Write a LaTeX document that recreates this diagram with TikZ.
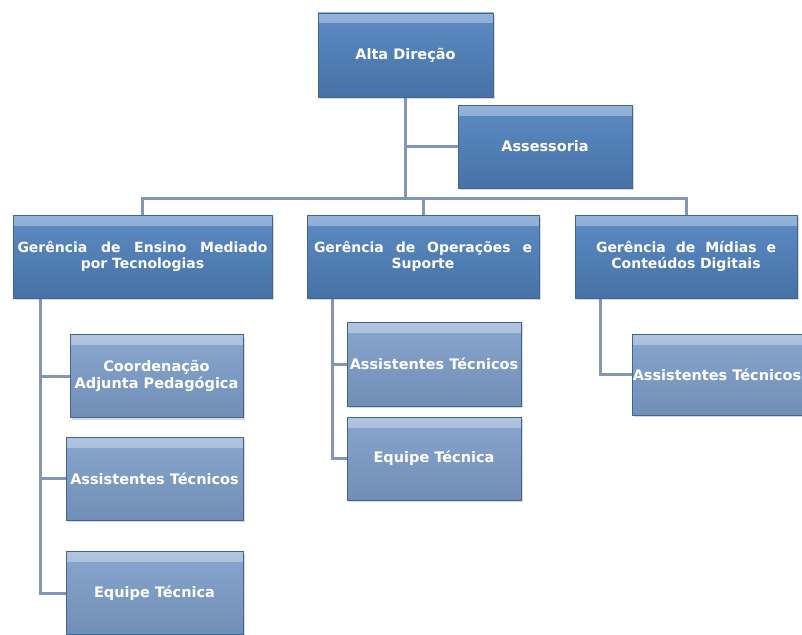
\documentclass[tikz,border=0pt]{standalone}
\usepackage{fontspec}
\setmainfont{DejaVu Sans}
\usetikzlibrary{positioning,shadows,backgrounds}
\definecolor{darkbox}{HTML}{4F81BD}
\definecolor{lightbox}{HTML}{7E9ECA}
\definecolor{boxedge}{HTML}{3F6594}
\definecolor{linkgray}{HTML}{8296BB}
\tikzset{
  gloss/.style={path picture={
    \shade[top color=#1!60!white, bottom color=#1!92!white] (path picture bounding box.north west)
      rectangle ([yshift=-10pt]path picture bounding box.north east);}},
  unit/.style={draw=boxedge, line width=0.6pt, text=white, align=center,
    inner sep=2pt, drop shadow={opacity=0.3, shadow xshift=1.5pt, shadow yshift=-2pt}},
  topunit/.style={unit, top color=darkbox!92!white, bottom color=darkbox!88!black, gloss=darkbox,
    minimum width=175pt, minimum height=84pt, font=\fontsize{14.5}{17}\selectfont\bfseries},
  mgrunit/.style={unit, top color=darkbox!92!white, bottom color=darkbox!88!black, gloss=darkbox,
    minimum height=83pt, font=\fontsize{14}{16}\selectfont\bfseries},
  subunit/.style={unit, top color=lightbox!92!white, bottom color=lightbox!90!black, gloss=lightbox,
    inner xsep=0pt, minimum height=83pt, font=\fontsize{14.5}{17}\selectfont\bfseries},
  link/.style={draw=linkgray, line width=3pt}
}

\begin{document}
\begin{tikzpicture}[x=1pt,y=-1pt]
  \useasboundingbox (0,0) rectangle (802,634);

  % Top
  \node[topunit] (alta) at (405.5,55) {Alta Direção};
  \node[topunit, minimum width=174pt, minimum height=83pt] (assess) at (545,146.5) {Assessoria};

  % Managers
  \node[mgrunit, minimum width=259pt, text width=250pt] (gem) at (142.5,256.5)
    {\hbox to 250pt{Gerência\hfil de\hfil Ensino\hfil Mediado}\\por Tecnologias};
  \node[mgrunit, minimum width=232pt, text width=218pt] (gos) at (423,256.5)
    {\hbox to 218pt{Gerência\hfil de\hfil Operações\hfil e}\\Suporte};
  \node[mgrunit, minimum width=222pt, text width=180pt] (gmc) at (686,256.5)
    {\hbox to 180pt{Gerência\hfil de\hfil Mídias\hfil e}\\Conteúdos Digitais};

  % Staff
  \node[subunit, minimum width=173pt] (cap1) at (156.5,376) {Coordenação\\Adjunta Pedagógica};
  \node[subunit, minimum width=177pt] (ast1) at (154.5,478.5) {Assistentes Técnicos};
  \node[subunit, minimum width=177pt] (eqt1) at (154.5,593) {Equipe Técnica};
  \node[subunit, minimum width=174pt, minimum height=84pt] (ast2) at (434,364) {Assistentes Técnicos};
  \node[subunit, minimum width=174pt] (eqt2) at (434,458.5) {Equipe Técnica};
  \node[subunit, minimum width=170pt, minimum height=81pt] (ast3) at (717,374.5) {Assistentes Técnicos};

  % Lines
  \coordinate (bus) at (0,198);
  \coordinate (gemleg) at (40,298);
  \coordinate (gosleg) at (332,298);
  \coordinate (gmcleg) at (600,298);
  \begin{scope}[on background layer]
    \draw[link] (alta.south) -- (alta.south |- bus);
    \draw[link] (alta.south |- assess.west) -- (assess.west);
    \draw[link] (gem.north) |- (gmc.north |- bus) -- (gmc.north);
    \draw[link] (gos.north |- bus) -- (gos.north);

    \draw[link] (gemleg) |- (eqt1.west);
    \draw[link] (gemleg |- cap1.west) -- (cap1.west);
    \draw[link] (gemleg |- ast1.west) -- (ast1.west);
    \draw[link] (gosleg) |- (eqt2.west);
    \draw[link] (gosleg |- ast2.west) -- (ast2.west);
    \draw[link] (gmcleg) |- (ast3.west);
  \end{scope}
\end{tikzpicture}
\end{document}
